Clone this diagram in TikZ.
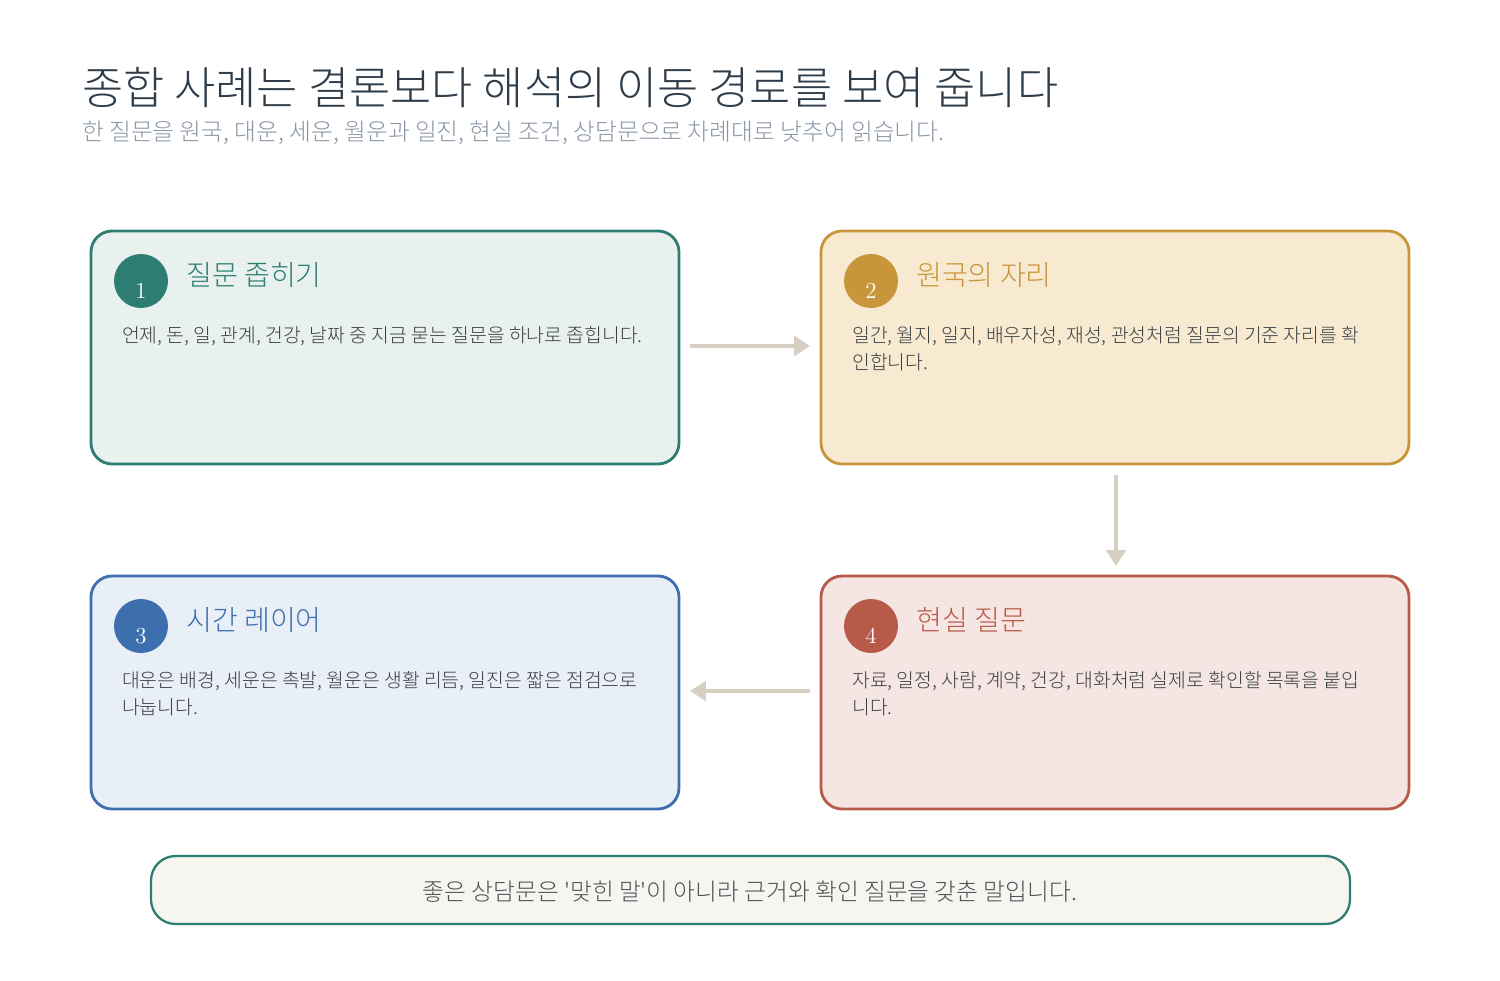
\documentclass[tikz,border=0pt]{standalone}
\usepackage{fontspec}
\newfontfamily\kr{Noto Sans CJK KR}
\newfontfamily\krl{Noto Sans CJK KR Light}
\usetikzlibrary{arrows.meta}
\definecolor{tealc}{HTML}{2E7D73}\definecolor{tealf}{HTML}{E8F1ED}
\definecolor{goldc}{HTML}{C8963A}\definecolor{goldf}{HTML}{F7EAD0}
\definecolor{bluec}{HTML}{3D6EAD}\definecolor{bluef}{HTML}{E9EFF7}
\definecolor{redc}{HTML}{B85A4A}\definecolor{redf}{HTML}{F6E6E3}
\definecolor{arrc}{HTML}{D6CFC2}\definecolor{titc}{HTML}{2F3D4A}
\definecolor{subc}{HTML}{8A96A6}\definecolor{bodyc}{HTML}{3A3F45}
\definecolor{footf}{HTML}{F6F5F0}
\begin{document}
\begin{tikzpicture}[x=0.02cm,y=-0.02cm,
  card/.style={draw=#1,line width=1.6pt,rounded corners=12pt,inner sep=0pt},
  num/.style={circle,fill=#1,minimum size=1.08cm,inner sep=0pt},
  numt/.style={text=white,font=\fontsize{13}{13}\selectfont},
  ttl/.style={anchor=west,text=#1,font=\krl\fontsize{16}{18}\selectfont},
  body/.style={anchor=north west,align=left,text=bodyc,font=\krl\fontsize{11}{15.3}\selectfont},
  conn/.style={draw=arrc,line width=2.2pt,-{Triangle[length=9pt,width=11pt]}}]
\useasboundingbox (0,0) rectangle (1500,980);
\node[anchor=west,text=titc,font=\krl\fontsize{25.5}{30}\selectfont] at (76,88) {종합 사례는 결론보다 해석의 이동 경로를 보여 줍니다};
\node[anchor=west,text=subc,font=\krl\fontsize{13.5}{15}\selectfont] at (76,133) {한 질문을 원국, 대운, 세운, 월운과 일진, 현실 조건, 상담문으로 차례대로 낮추어 읽습니다.};
\path[card=tealc,fill=tealf] (91,231) rectangle (679,464);
\path[card=goldc,fill=goldf] (821,231) rectangle (1409,464);
\path[card=bluec,fill=bluef] (91,576) rectangle (679,809);
\path[card=redc,fill=redf] (821,576) rectangle (1409,809);
\node[num=tealc] (n1) at (141,281) {};
\node[num=goldc] (n2) at (871,281) {};
\node[num=bluec] (n3) at (141,626) {};
\node[num=redc] (n4) at (871,626) {};
\node[numt] at (141,291) {1};
\node[numt] at (871,291) {2};
\node[numt] at (141,636) {3};
\node[numt] at (871,636) {4};
\node[ttl=tealc] (t1) at (180,275) {질문 좁히기};
\node[ttl=goldc] (t2) at (910,275) {원국의 자리};
\node[ttl=bluec] (t3) at (180,620) {시간 레이어};
\node[ttl=redc] (t4) at (910,620) {현실 질문};
\node[body] (d1) at (116,320) {언제, 돈, 일, 관계, 건강, 날짜 중 지금 묻는 질문을 하나로 좁힙니다.};
\node[body] (d2) at (846,320) {일간, 월지, 일지, 배우자성, 재성, 관성처럼 질문의 기준 자리를 확\\인합니다.};
\node[body] (d3) at (116,665) {대운은 배경, 세운은 촉발, 월운은 생활 리듬, 일진은 짧은 점검으로\\나눕니다.};
\node[body] (d4) at (846,665) {자료, 일정, 사람, 계약, 건강, 대화처럼 실제로 확인할 목록을 붙입\\니다.};
\coordinate (a1s) at (690,346); \coordinate (a1e) at (810,346);
\coordinate (a2s) at (1116,475); \coordinate (a2e) at (1116,566);
\coordinate (a3s) at (810,691); \coordinate (a3e) at (690,691);
\draw[conn] (a1s) -- (a1e);
\draw[conn] (a2s) -- (a2e);
\draw[conn] (a3s) -- (a3e);
\path[draw=tealc,line width=1.3pt,fill=footf,rounded corners=14pt] (151,856) rectangle (1350,924);
\node[text=bodyc!90,font=\krl\fontsize{13.5}{15}\selectfont] (foot) at (750,892) {좋은 상담문은 '맞힌 말'이 아니라 근거와 확인 질문을 갖춘 말입니다.};
\end{tikzpicture}
\end{document}
